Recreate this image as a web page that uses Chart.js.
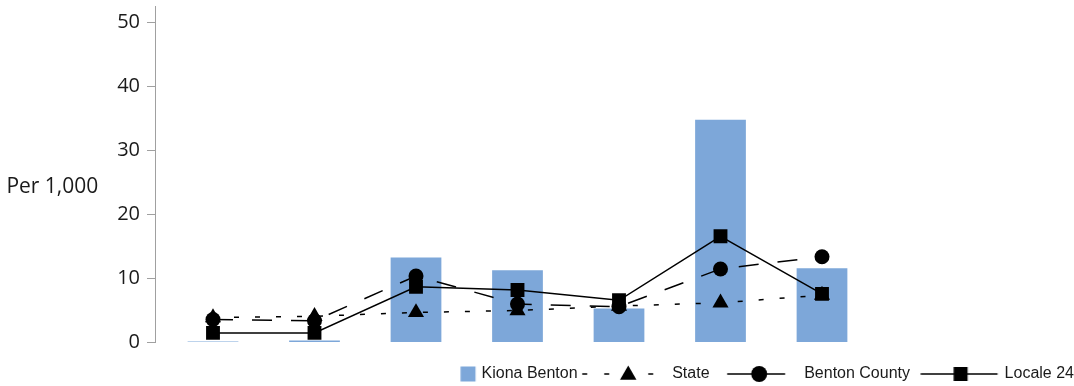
<!DOCTYPE html>
<html><head><meta charset="utf-8">
<script src="https://cdn.jsdelivr.net/npm/chart.js@4.4.0/dist/chart.umd.min.js"></script>
<style>html,body{margin:0;padding:0;background:#fff}#wrap{width:1074px;height:386px;position:relative}</style>
</head><body><div id="wrap"><canvas id="c"></canvas></div>
<script>
// ---- data ----
const categories = ['Group 1', 'Group 2', 'Group 3', 'Group 4', 'Group 5', 'Group 6', 'Group 7'];
const kionaBenton = [0.15, 0.3, 13.3, 11.3, 5.3, 34.8, 11.6];
const stateRate = [3.9, 4.1, 4.7, 5.0, 5.7, 6.2, 7.4];
const bentonCounty = [3.6, 3.4, 10.4, 6.0, 5.6, 11.5, 13.4];
const locale24 = [1.5, 1.5, 8.7, 8.2, 6.6, 16.6, 7.6];
const yTicks = [0, 10, 20, 30, 40, 50];
const yMax = 52.6;
const seriesNames = ['Kiona Benton', 'State', 'Benton County', 'Locale 24'];
const yTitle = 'Per 1,000';

// ---- styles ----
const BAR = '#7da7d9';
const INK = '#000000';
const TEXT = '#1a1a1a';
const AXIS = '#a0a0a0';

function symbol(kind) {
  const c = document.createElement('canvas');
  c.width = 120; c.height = 26;
  const g = c.getContext('2d');
  const cx = 60, cy = 13;
  g.fillStyle = INK; g.strokeStyle = INK; g.lineWidth = 1.5;
  const hline = (a, b) => { g.beginPath(); g.moveTo(cx + a, cy); g.lineTo(cx + b, cy); g.stroke(); };
  if (kind === 'bar') {
    g.fillStyle = BAR; g.fillRect(cx + 30.3, cy - 7.5, 15, 15);
  } else if (kind === 'state') {
    g.setLineDash([5, 17]); hline(-38.7, 39.3); g.setLineDash([]);
    const r = 9.5, x = cx + 7.3, y = cy + 1;
    g.beginPath();
    g.moveTo(x, y - r);
    g.lineTo(x + r * Math.sin(2 * Math.PI / 3), y - r * Math.cos(2 * Math.PI / 3));
    g.lineTo(x + r * Math.sin(4 * Math.PI / 3), y - r * Math.cos(4 * Math.PI / 3));
    g.closePath(); g.fill();
  } else if (kind === 'circle') {
    hline(-25.7, 32.3);
    g.beginPath(); g.arc(cx + 6.3, cy, 8, 0, Math.PI * 2); g.fill();
  } else {
    hline(-32.7, 44.3);
    g.fillRect(cx + 7.3 - 7, cy - 7, 14, 14);
  }
  return c;
}
const legendSymbols = [symbol('bar'), symbol('state'), symbol('circle'), symbol('square')];

const yTitlePlugin = {
  id: 'yTitle',
  afterDraw(chart) {
    const ctx = chart.ctx;
    ctx.save();
    ctx.font = '21px "Open Sans"';
    ctx.fillStyle = TEXT;
    ctx.textAlign = 'left';
    ctx.textBaseline = 'alphabetic';
    ctx.fillText(yTitle, 6.4, 193.3);
    ctx.restore();
  }
};

new Chart(document.getElementById('c'), {
  data: {
    labels: categories,
    datasets: [
      { type: 'bar', label: seriesNames[0], data: kionaBenton, backgroundColor: BAR, borderWidth: 0,
        categoryPercentage: 1, barPercentage: 0.5, order: 1 },
      { type: 'line', label: seriesNames[1], data: stateRate, borderColor: INK, borderWidth: 1.5,
        borderDash: [5, 16], pointStyle: 'triangle', pointRadius: 9.3, pointBackgroundColor: INK,
        pointBorderWidth: 0, tension: 0, fill: false, order: 0 },
      { type: 'line', label: seriesNames[2], data: bentonCounty, borderColor: INK, borderWidth: 1.5,
        borderDash: [20, 19], pointStyle: 'circle', pointRadius: 7.5, pointBackgroundColor: INK,
        pointBorderWidth: 0, tension: 0, fill: false, order: 0 },
      { type: 'line', label: seriesNames[3], data: locale24, borderColor: INK, borderWidth: 1.5,
        pointStyle: 'rect', pointRadius: 9.8, pointBackgroundColor: INK,
        pointBorderWidth: 0, tension: 0, fill: false, order: 0 }
    ]
  },
  options: {
    responsive: true,
    maintainAspectRatio: false,
    animation: false,
    layout: { autoPadding: false, padding: { top: 6, left: 0, right: 0, bottom: 0 } },
    scales: {
      x: { type: 'category', display: false, offset: true },
      y: {
        type: 'linear', position: 'left', weight: 1,
        min: 0, max: yMax,
        afterBuildTicks(s) { s.ticks = yTicks.map(v => ({ value: v })); },
        afterFit(s) { s.width = 155; s.paddingTop = 0; s.paddingBottom = 0; },
        grid: { display: true, drawOnChartArea: false, drawTicks: true, tickLength: 8, color: AXIS, lineWidth: 1 },
        border: { display: true, color: AXIS, width: 1 },
        ticks: { color: TEXT, font: { family: '"Open Sans"', size: 20 }, padding: 7 }
      },
      yPad: {
        type: 'linear', position: 'left', weight: 0, display: true,
        grid: { display: false }, border: { display: false }, ticks: { display: false },
        afterFit(s) { s.width = 7.25; s.paddingTop = 0; s.paddingBottom = 0; }
      },
      yRight: {
        type: 'linear', position: 'right', display: true,
        grid: { display: false }, border: { display: false }, ticks: { display: false },
        afterFit(s) { s.width = 201.25; s.paddingTop = 0; s.paddingBottom = 0; }
      }
    },
    plugins: {
      tooltip: { enabled: false },
      legend: {
        display: true, position: 'bottom', align: 'end', maxHeight: 43.5,
        title: { display: true, text: ' ', font: { size: 23.5, lineHeight: 1 }, padding: 0 },
        labels: {
          usePointStyle: true, pointStyleWidth: 86.6, padding: 0,
          color: TEXT, font: { family: '"Liberation Sans"', size: 16 },
          generateLabels(chart) {
            return seriesNames.map((name, i) => ({
              text: name, pointStyle: legendSymbols[i], fillStyle: INK, strokeStyle: INK,
              lineWidth: 0, hidden: false, datasetIndex: i, fontColor: TEXT
            }));
          }
        }
      }
    }
  },
  plugins: [yTitlePlugin]
});
</script>
</body></html>
